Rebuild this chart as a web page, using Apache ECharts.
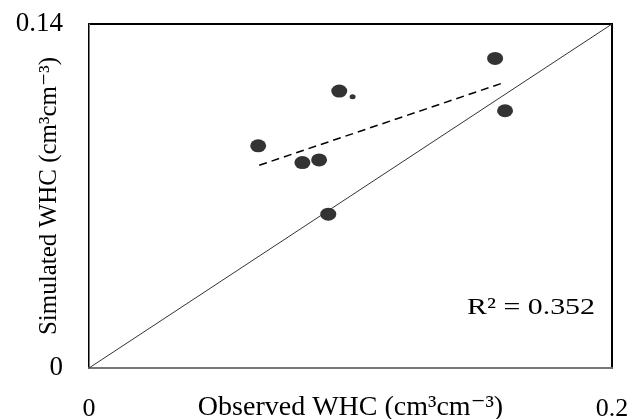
<!DOCTYPE html>
<html>
<head>
<meta charset="utf-8">
<script src="https://cdn.jsdelivr.net/npm/echarts@6/dist/echarts.min.js"></script>
<style>
html,body{margin:0;padding:0;background:#fff;}
#chart{width:629px;height:419px;}
</style>
</head>
<body>
<div id="chart"></div>
<script>
// Data
const observed  = [0.0647, 0.0816, 0.0880, 0.0957, 0.0915, 0.1553, 0.1591];
const simulated = [0.0904, 0.0836, 0.0847, 0.1127, 0.0626, 0.1260, 0.1047];
const smallDotX = [0.1008];
const smallDotY = [0.1104];
const trendX = [0.0651, 0.1591];
const trendY = [0.0825, 0.1163];
const oneLineX = [0, 0.2];
const oneLineY = [0, 0.14];
const xTicks = [0, 0.2];
const yTicks = [0, 0.14];
const rSquared = 'R² = 0.352';
const xTitle = 'Observed WHC (cm³cm⁻³)';
const yTitle = 'Simulated WHC (cm³cm⁻³)';

const zip = (a, b) => a.map((v, i) => [v, b[i]]);
const font = '"Liberation Serif", "DejaVu Serif", serif';

const chart = echarts.init(document.getElementById('chart'));
chart.setOption({
  animation: false,
  backgroundColor: '#fff',
  grid: {left: 89, right: 17, top: 24, bottom: 51, show: true, borderColor: '#000', borderWidth: 2,
         containLabel: false, outerBoundsMode: 'none'},
  xAxis: {
    type: 'value', min: xTicks[0], max: xTicks[1], interval: xTicks[1] - xTicks[0],
    name: xTitle, nameLocation: 'middle', nameGap: 26, nameMoveOverlap: false,
    nameTextStyle: {fontFamily: font, fontSize: 28, color: '#000'},
    axisLine: {show: true, lineStyle: {color: '#777', width: 2}},
    axisTick: {show: false}, splitLine: {show: false},
    axisLabel: {fontFamily: font, fontSize: 26, color: '#000', margin: 28,
      formatter: v => (xTicks.includes(+v.toFixed(2)) ? String(+v.toFixed(2)) : '')}
  },
  yAxis: {
    type: 'value', min: yTicks[0], max: yTicks[1], interval: yTicks[1] - yTicks[0],
    name: yTitle, nameLocation: 'middle', nameGap: 27, nameRotate: 90, nameMoveOverlap: false,
    nameTextStyle: {fontFamily: font, fontSize: 25, color: '#000'},
    axisLine: {show: true, lineStyle: {color: '#777', width: 1}},
    axisTick: {show: false}, splitLine: {show: false},
    axisLabel: {fontFamily: font, fontSize: 27, color: '#000', margin: 26,
      formatter: v => String(+v.toFixed(2))}
  },
  series: [
    {type: 'line', data: zip(oneLineX, oneLineY), symbol: 'none', silent: true,
     lineStyle: {color: '#333', width: 1}},
    {type: 'line', data: zip(trendX, trendY), symbol: 'none', silent: true,
     lineStyle: {color: '#000', width: 1.5, type: [8, 5]}},
    {type: 'scatter', data: zip(observed, simulated), symbol: 'circle', symbolSize: [16, 13],
     itemStyle: {color: '#000'}},
    {type: 'scatter', data: zip(smallDotX, smallDotY), symbol: 'circle', symbolSize: [6, 5],
     itemStyle: {color: '#000'}}
  ],
  graphic: [
    {type: 'text', x: 467, y: 296, scaleX: 1.3,
     style: {text: rSquared, fontFamily: font, fontSize: 23, fill: '#000'}}
  ]
});
</script>
</body>
</html>
